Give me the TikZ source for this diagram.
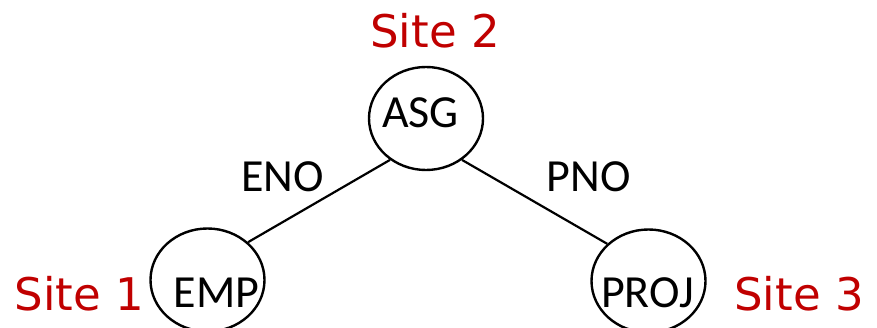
\documentclass[tikz,border=0pt]{standalone}
\usepackage{fontspec}
\setmainfont{Carlito}
\newfontfamily\sitefont{DejaVu Sans}
\usetikzlibrary{shapes.geometric}
\definecolor{sitered}{RGB}{192,0,0}
\begin{document}
\begin{tikzpicture}[x=1pt,y=-1pt,
  relation/.style={ellipse,draw,line width=2.4pt,minimum width=114pt,minimum height=103pt,inner sep=0pt},
  reltext/.style={anchor=base,inner sep=0pt,font=\fontsize{46}{50}\selectfont},
  edgelabel/.style={anchor=base,inner sep=0pt,font=\fontsize{46}{50}\selectfont},
  sitelabel/.style={anchor=base,inner sep=0pt,text=sitered,font=\sitefont\fontsize{45}{50}\selectfont},
  link/.style={line width=2.2pt}]
  \useasboundingbox (0,0) rectangle (877,328);
  \clip (0,0) rectangle (877,328);

  % relations placed at the three sites
  \node[relation] (asg)  at (426,118.5) {};
  \node[relation] (emp)  at (207.5,280) {};
  \node[relation] (proj) at (648.5,281) {};

  \node[reltext] (asgtext)  at (420.5,128) {ASG};
  \node[reltext] (emptext)  at (216.5,307) {EMP};
  \node[reltext] (projtext) at (647.5,307) {PROJ};

  % join edges
  \draw[link] (asg.229) -- (emp.43.5);
  \draw[link] (asg.311) -- (proj.138);

  \node[edgelabel] (eno) at (282.5,192) {ENO};
  \node[edgelabel] (pno) at (588.5,192) {PNO};

  % site names
  \node[sitelabel] (site2) at (435,48) {Site 2};
  \node[sitelabel] (site1) at (79.5,310) {Site 1};
  \node[sitelabel] (site3) at (799,310) {Site 3};
\end{tikzpicture}
\end{document}
